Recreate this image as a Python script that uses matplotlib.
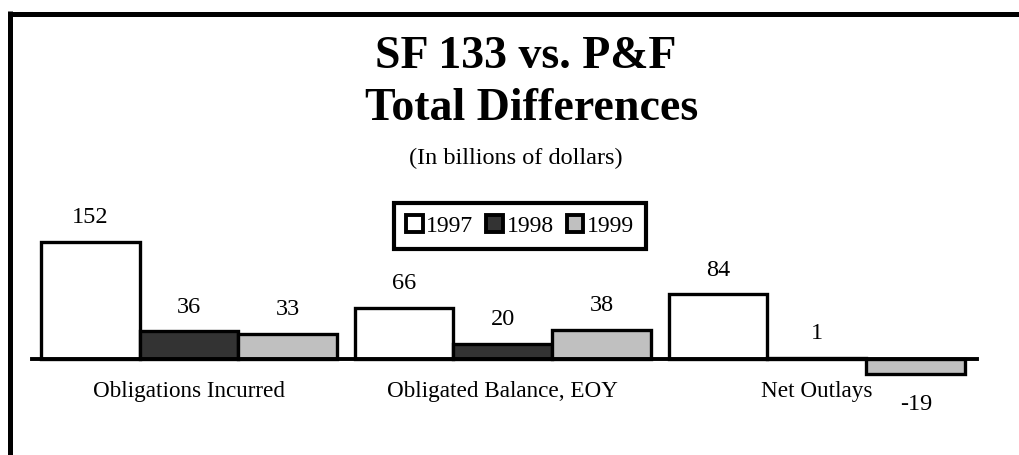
import matplotlib
matplotlib.use("Agg")
import matplotlib.pyplot as plt
from matplotlib.patches import Patch
from matplotlib.lines import Line2D
import numpy as np

# chart data
categories = ["Obligations Incurred", "Obligated Balance, EOY", "Net Outlays"]
years = ["1997", "1998", "1999"]
values_1997 = [152, 66, 84]
values_1998 = [36, 20, 1]
values_1999 = [33, 38, -19]
series = [values_1997, values_1998, values_1999]
colors = ["#ffffff", "#333333", "#c0c0c0"]

plt.rcParams["font.family"] = ["Liberation Serif", "DejaVu Serif"]

W, H = 1020, 455
fig = plt.figure(figsize=(W / 100, H / 100), dpi=100, facecolor="white")


# helper: pixel box (from top-left) -> figure fraction
def px_box(x0, y0, x1, y1):
    return [x0 / W, 1 - y1 / H, (x1 - x0) / W, (y1 - y0) / H]


# axes spans the baseline horizontally, bars area vertically
ax_top, ax_bot, base_y = 200, 420, 359
scale = 0.77  # px per billion
ax = fig.add_axes(px_box(32, ax_top, 977, ax_bot))
ax.set_xlim(-0.5, 2.51)
ax.set_ylim(-(ax_bot - base_y) / scale, (base_y - ax_top) / scale)

x = np.arange(len(categories))
width = 0.315
for j, (vals, col) in enumerate(zip(series, colors)):
    pos = x + (j - 1) * width
    ax.bar(pos, vals, width, color=col, edgecolor="black", linewidth=2.4,
           zorder=3, label=years[j], clip_on=False)
    for xp, v in zip(pos, vals):
        if v >= 0:
            ax.annotate(str(v), (xp, v), xytext=(0, 13.5), textcoords="offset points",
                        ha="center", va="baseline", fontsize=17.5)
        else:
            ax.annotate(str(v), (xp, v), xytext=(0, -26.5), textcoords="offset points",
                        ha="center", va="baseline", fontsize=17.5)

for s in ["top", "right", "left"]:
    ax.spines[s].set_visible(False)
ax.spines["bottom"].set_position(("data", 0))
ax.spines["bottom"].set_linewidth(2.8)
ax.spines["bottom"].set_zorder(4)
ax.set_yticks([])
ax.set_xticks(x)
ax.set_xticklabels(categories, fontsize=16.7)
ax.tick_params(axis="x", length=0, pad=16)
ax.patch.set_alpha(0)

# titles
fig.text(526 / W, 1 - 68 / H, "SF 133 vs. P&F", ha="center", va="baseline",
         fontsize=33, fontweight="bold")
fig.text(532 / W, 1 - 120 / H, "Total Differences", ha="center", va="baseline",
         fontsize=33, fontweight="bold")
fig.text(516 / W, 1 - 164 / H, "(In billions of dollars)", ha="center", va="baseline",
         fontsize=17.5)

# legend
handles = [Patch(facecolor=c, edgecolor="black", linewidth=2.8, label=y)
           for c, y in zip(colors, years)]
leg = fig.legend(handles=handles, loc="center", ncol=3,
                 bbox_to_anchor=(520 / W, 1 - 226 / H), fontsize=17,
                 fancybox=False, framealpha=1, handlelength=0.7, handleheight=0.7,
                 handletextpad=0.15, columnspacing=0.55, borderpad=0.5)
leg.get_frame().set_edgecolor("black")
leg.get_frame().set_linewidth(3)

# outer border lines (top and left)
fig.add_artist(Line2D([8 / W, 1.0], [1 - 13.5 / H, 1 - 13.5 / H], color="black",
                      linewidth=3.6, transform=fig.transFigure, solid_capstyle="butt"))
fig.add_artist(Line2D([10.5 / W, 10.5 / W], [1 - 11 / H, 0], color="black",
                      linewidth=3.6, transform=fig.transFigure, solid_capstyle="butt"))

fig.savefig("out.png", dpi=100)
